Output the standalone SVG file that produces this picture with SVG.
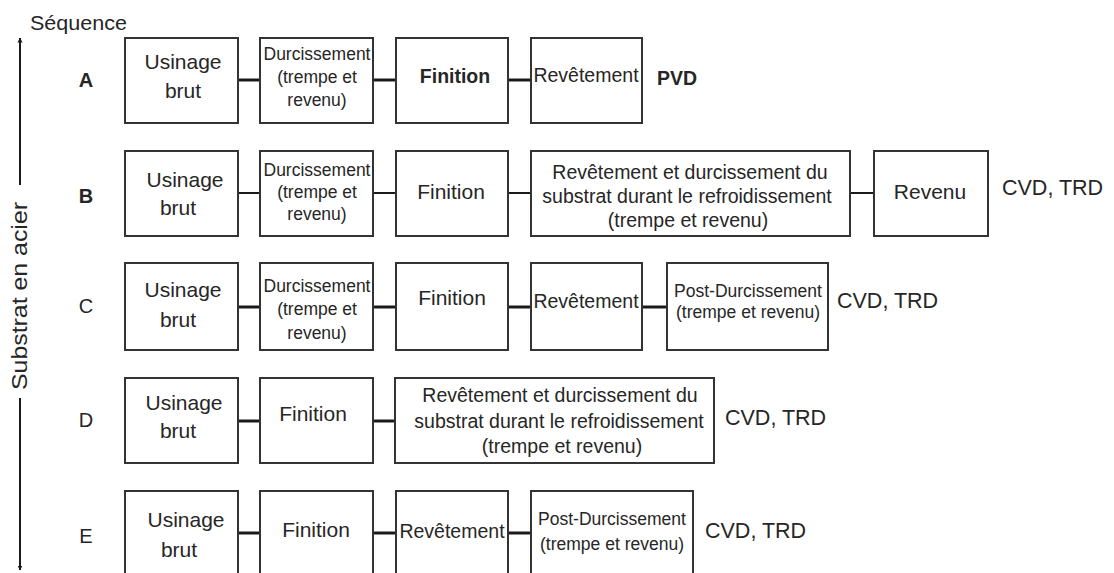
<svg xmlns="http://www.w3.org/2000/svg" width="1114" height="573" viewBox="0 0 1114 573">
<defs>
<style>
text{font-family:"Liberation Sans",Arial,sans-serif;fill:#262626;text-anchor:middle}
.box{fill:#fff;stroke:#333;stroke-width:2}
.c{stroke:#1a1a1a;stroke-width:3;fill:none}
.cb{stroke:#1a1a1a;stroke-width:2;fill:none}
.ub{font-size:21px}
.dz{font-size:17.5px}
.fi{font-size:21px}
.rv{font-size:19.5px}
.big{font-size:19.5px}
.pd{font-size:17.5px}
.res{font-size:21.5px;text-anchor:start}
.lab{font-size:20px}
.ax{stroke:#1a1a1a;stroke-width:2}
</style>
<marker id="ah" viewBox="0 0 10 10" refX="9" refY="5" markerWidth="5" markerHeight="7" markerUnits="userSpaceOnUse" orient="auto">
<path d="M0,0 L10,5 L0,10 z" fill="#1a1a1a"/>
</marker>
</defs>
<rect width="1114" height="573" fill="#fff"/>

<g id="axis">
<text x="30" y="30" style="font-size:20px;text-anchor:start" textLength="97" lengthAdjust="spacingAndGlyphs">Séquence</text>
<line class="ax" x1="20" y1="185" x2="20" y2="38" marker-end="url(#ah)"/>
<line class="ax" x1="20" y1="398" x2="20" y2="570" marker-end="url(#ah)"/>
<text transform="translate(27,296) rotate(-90)" style="font-size:22px" textLength="188" lengthAdjust="spacingAndGlyphs">Substrat en acier</text>
</g>

<g id="labels">
<text class="lab" x="86" y="87" font-weight="bold">A</text>
<text class="lab" x="86" y="203" font-weight="bold">B</text>
<text class="lab" x="86" y="313">C</text>
<text class="lab" x="86" y="427">D</text>
<text class="lab" x="86" y="543">E</text>
</g>

<g id="connectors">
<line class="c" x1="238" y1="80" x2="260" y2="80"/>
<line class="c" x1="373" y1="80" x2="396" y2="80"/>
<line class="c" x1="506" y1="80" x2="531" y2="80"/>
<line class="cb" x1="238" y1="193" x2="260" y2="193"/>
<line class="cb" x1="373" y1="193" x2="396" y2="193"/>
<line class="cb" x1="506" y1="193" x2="531" y2="193"/>
<line class="cb" x1="850" y1="193" x2="874" y2="193"/>
<line class="c" x1="238" y1="307" x2="260" y2="307"/>
<line class="c" x1="373" y1="307" x2="396" y2="307"/>
<line class="c" x1="506" y1="307" x2="531" y2="307"/>
<line class="c" x1="642" y1="307" x2="667" y2="307"/>
<line class="c" x1="238" y1="421" x2="260" y2="421"/>
<line class="c" x1="373" y1="421" x2="395" y2="421"/>
<line class="c" x1="238" y1="533" x2="260" y2="533"/>
<line class="c" x1="373" y1="533" x2="396" y2="533"/>
<line class="c" x1="508" y1="533" x2="531" y2="533"/>
</g>

<g id="rowA">
<g id="A1"><rect class="box" x="125" y="38" width="113" height="85"/><text class="ub" x="183" y="69">Usinage</text><text class="ub" x="183" y="98">brut</text></g>
<g id="A2"><rect class="box" x="260" y="38" width="113" height="85"/><text class="dz" x="317" y="60">Durcissement</text><text class="dz" x="317" y="83">(trempe et</text><text class="dz" x="317" y="106">revenu)</text></g>
<g id="A3"><rect class="box" x="396" y="38" width="112" height="85"/><text x="455" y="83" style="font-size:19.5px" font-weight="bold">Finition</text></g>
<g id="A4"><rect class="box" x="531" y="38" width="111" height="85"/><text class="rv" x="586" y="82">Revêtement</text></g>
<text x="657" y="85" style="font-size:19.5px;text-anchor:start" font-weight="bold">PVD</text>
</g>

<g id="rowB">
<g id="B1"><rect class="box" x="125" y="151" width="113" height="85"/><text class="ub" x="185" y="187">Usinage</text><text class="ub" x="178" y="215">brut</text></g>
<g id="B2"><rect class="box" x="260" y="151" width="113" height="85"/><text class="dz" x="317" y="176">Durcissement</text><text class="dz" x="317" y="198">(trempe et</text><text class="dz" x="317" y="220">revenu)</text></g>
<g id="B3"><rect class="box" x="396" y="151" width="112" height="85"/><text class="fi" x="451" y="199">Finition</text></g>
<g id="B4"><rect class="box" x="531" y="151" width="319" height="85"/><text class="big" x="690" y="179">Revêtement et durcissement du</text><text class="big" x="687" y="203">substrat durant le refroidissement</text><text class="big" x="688" y="227">(trempe et revenu)</text></g>
<g id="B5"><rect class="box" x="874" y="151" width="114" height="85"/><text class="fi" x="930" y="199">Revenu</text></g>
<text class="res" x="1002" y="195">CVD, TRD</text>
</g>

<g id="rowC">
<g id="C1"><rect class="box" x="125" y="263" width="113" height="87"/><text class="ub" x="183" y="297">Usinage</text><text class="ub" x="178" y="327">brut</text></g>
<g id="C2"><rect class="box" x="260" y="263" width="113" height="87"/><text class="dz" x="317" y="292">Durcissement</text><text class="dz" x="317" y="315">(trempe et</text><text class="dz" x="317" y="339">revenu)</text></g>
<g id="C3"><rect class="box" x="396" y="263" width="112" height="87"/><text class="fi" x="452" y="305">Finition</text></g>
<g id="C4"><rect class="box" x="531" y="263" width="111" height="87"/><text class="rv" x="586" y="308">Revêtement</text></g>
<g id="C5"><rect class="box" x="667" y="263" width="161" height="87"/><text class="pd" x="748" y="297">Post-Durcissement</text><text class="pd" x="748" y="318">(trempe et revenu)</text></g>
<text class="res" x="837" y="308">CVD, TRD</text>
</g>

<g id="rowD">
<g id="D1"><rect class="box" x="125" y="378" width="113" height="85"/><text class="ub" x="184" y="410">Usinage</text><text class="ub" x="178" y="438">brut</text></g>
<g id="D2"><rect class="box" x="260" y="378" width="113" height="85"/><text class="fi" x="313" y="421">Finition</text></g>
<g id="D3"><rect class="box" x="395" y="378" width="319" height="85"/><text class="big" x="560" y="402">Revêtement et durcissement du</text><text class="big" x="559" y="428">substrat durant le refroidissement</text><text class="big" x="562" y="453">(trempe et revenu)</text></g>
<text class="res" x="725" y="425">CVD, TRD</text>
</g>

<g id="rowE">
<g id="E1"><rect class="box" x="125" y="491" width="113" height="86"/><text class="ub" x="186" y="527">Usinage</text><text class="ub" x="179" y="557">brut</text></g>
<g id="E2"><rect class="box" x="260" y="491" width="113" height="86"/><text class="fi" x="316" y="537">Finition</text></g>
<g id="E3"><rect class="box" x="396" y="491" width="112" height="86"/><text class="rv" x="452" y="538">Revêtement</text></g>
<g id="E4"><rect class="box" x="531" y="491" width="162" height="86"/><text class="pd" x="612" y="525">Post-Durcissement</text><text class="pd" x="612" y="550">(trempe et revenu)</text></g>
<text class="res" x="705" y="538">CVD, TRD</text>
</g>
</svg>
